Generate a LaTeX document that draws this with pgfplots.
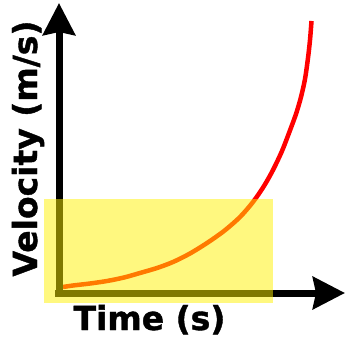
\documentclass[border=0pt]{standalone}
\usepackage{pgfplots}
\pgfplotsset{compat=1.18}
\usepackage{fontspec}
\newfontfamily\lab{DejaVu Sans}[BoldFeatures={FakeBold=1.2}]
\usetikzlibrary{arrows.meta}
\begin{document}
\begin{tikzpicture}
\begin{axis}[
  scale only axis, width=350pt, height=345pt,
  xmin=-59, xmax=291, ymin=-52, ymax=293,
  axis lines=none, clip=false,
]
% curve
\addplot[red, line width=4.5pt, smooth] coordinates {
(4,6) (14,7.5) (31,9.5) (48,12) (65,15.5) (81,20) (98,25) (114,31) (131,39.5) (148,50)
(165,62) (181,76) (194,91) (205,107) (214,123) (223,142) (230,160) (237,179) (242,196)
(246,214) (249,235) (251,253) (252.5,272)
};
% axes
\addplot[black, line width=7pt, -{Stealth[length=32pt,width=32pt,inset=3pt]}] coordinates {(0,-3) (0,290)};
\addplot[black, line width=7pt, -{Stealth[length=32pt,width=32pt,inset=3pt]}] coordinates {(-4,0) (286,0)};
% yellow box
\addplot[draw=none, fill=yellow, fill opacity=0.5] coordinates {(-15,-10) (214,-10) (214,94) (-15,94)} -- cycle;
\node[anchor=base, inner sep=0pt, font=\lab\bfseries\fontsize{33}{38}\selectfont] at (axis cs:90.5,-37) {Time (s)};
\node[anchor=base, rotate=90, inner sep=0pt, font=\lab\bfseries\fontsize{33}{38}\selectfont] at (axis cs:-22,144.5) {Velocity (m/s)};
\end{axis}
\pgfresetboundingbox
\path[use as bounding box] (current axis.south west) rectangle (current axis.north east);
\end{tikzpicture}
\end{document}
